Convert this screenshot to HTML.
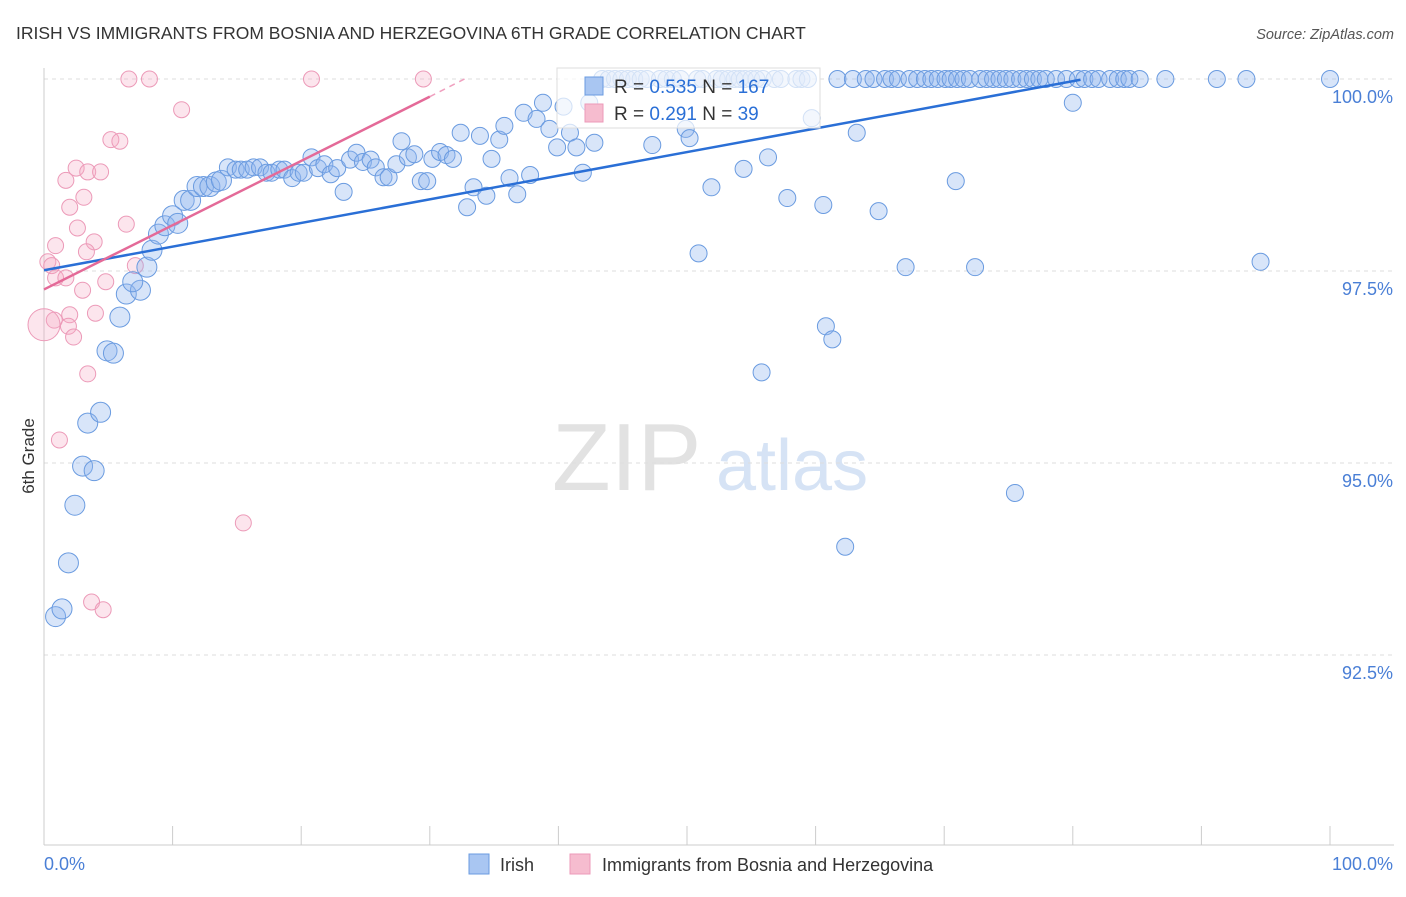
<!DOCTYPE html>
<html><head><meta charset="utf-8"><style>
body{margin:0;background:#fff;font-family:"Liberation Sans",sans-serif}
svg text{font-family:"Liberation Sans",sans-serif}
</style></head><body>
<svg id="chart" width="1406" height="892" xmlns="http://www.w3.org/2000/svg">
<text x="16" y="39" font-size="17.5" fill="#333">IRISH VS IMMIGRANTS FROM BOSNIA AND HERZEGOVINA 6TH GRADE CORRELATION CHART</text>
<text x="1394" y="39" font-size="14.5" fill="#555" font-style="italic" text-anchor="end">Source: ZipAtlas.com</text>
<g>
<text x="552" y="490" font-size="96" font-family="Liberation Serif" fill="#e2e2e2">ZIP</text>
<text x="716" y="490" font-size="72" fill="#d6e3f5">atlas</text>
</g>
<g id="grid"></g>
<g id="axes"></g>
<g id="pink"></g>
<g id="blue"></g>
<g id="lines"></g>
<g>
<rect x="557" y="68" width="263" height="60" fill="#fff" fill-opacity="0.7" stroke="#ddd"/>
<rect x="585" y="77" width="18" height="18" fill="#a9c6f2" stroke="#6a9be0"/>
<text x="614" y="93" font-size="19" fill="#333">R = <tspan fill="#2a6fd6">0.535</tspan>   N = <tspan fill="#2a6fd6">167</tspan></text>
<rect x="585" y="104" width="18" height="18" fill="#f6bccf" stroke="#ec9ab8"/>
<text x="614" y="120" font-size="19" fill="#333">R =  <tspan fill="#2a6fd6">0.291</tspan>   N =  <tspan fill="#2a6fd6">39</tspan></text>
</g>
<text transform="translate(34,456) rotate(-90)" font-size="17" fill="#333" text-anchor="middle">6th Grade</text>
<g>
<rect x="469" y="854" width="20" height="20" fill="#a9c6f2" stroke="#6a9be0"/>
<text x="500" y="871" font-size="18" fill="#333">Irish</text>
<rect x="570" y="854" width="20" height="20" fill="#f6bccf" stroke="#ec9ab8"/>
<text x="602" y="871" font-size="18" fill="#333">Immigrants from Bosnia and Herzegovina</text>
</g>
</svg>
<script>
const blueX=[0.9,1.4,1.9,2.4,3.0,3.9,3.4,4.4,4.9,5.4,5.9,6.4,7.5,6.9,8.0,8.4,8.9,9.4,10.0,10.4,10.9,11.4,11.9,12.4,12.9,13.4,13.8,14.3,14.9,15.3,15.8,16.3,16.8,17.3,17.7,18.3,18.7,19.3,19.8,20.2,20.8,21.3,21.8,22.3,22.8,23.3,23.8,24.3,24.8,25.4,25.8,26.4,26.8,27.4,27.8,28.3,28.8,29.3,29.8,30.2,30.8,31.3,31.8,32.4,32.9,33.4,33.9,34.4,34.8,35.4,35.8,36.2,36.8,37.3,37.8,38.3,38.8,39.3,39.9,40.4,40.9,41.4,41.9,42.4,42.8,47.3,49.9,50.2,51.9,54.4,56.3,57.8,59.7,60.6,60.8,61.3,62.3,63.2,64.9,67.0,72.4,75.5,80.0,94.6,55.8,50.9,70.9,
43.4,43.9,44.4,44.9,45.4,45.9,46.4,46.9,47.9,48.4,48.9,49.5,50.8,51.2,52.3,52.7,53.2,53.7,54.1,54.5,55.0,55.4,55.9,56.8,57.3,58.5,58.9,59.4,61.7,62.9,63.9,64.5,65.4,65.9,66.4,67.3,67.9,68.5,69.0,69.5,70.1,70.5,71.0,71.5,72.0,72.8,73.3,73.8,74.3,74.8,75.3,75.9,76.4,76.9,77.4,77.9,78.7,79.5,80.4,80.9,81.5,82.0,82.9,83.5,84.0,84.4,85.2,87.2,91.2,93.5,100];
const blueY=[93.0,93.1,93.7,94.45,94.96,94.9,95.52,95.66,96.46,96.43,96.9,97.2,97.25,97.36,97.55,97.77,97.98,98.09,98.22,98.12,98.42,98.42,98.6,98.6,98.6,98.66,98.68,98.85,98.82,98.82,98.82,98.85,98.85,98.78,98.78,98.82,98.82,98.71,98.78,98.78,98.98,98.84,98.89,98.76,98.84,98.53,98.95,99.04,98.92,98.95,98.85,98.72,98.72,98.89,99.19,98.98,99.02,98.67,98.67,98.96,99.05,99.01,98.96,99.3,98.33,98.59,99.26,98.48,98.96,99.21,99.39,98.71,98.5,99.56,98.75,99.48,99.69,99.35,99.11,99.64,99.3,99.11,98.78,99.69,99.17,99.14,99.35,99.23,98.59,98.83,98.98,98.45,99.49,98.36,96.78,96.61,93.91,99.3,98.28,97.55,97.55,94.61,99.69,97.62,96.18,97.73,98.67];
while(blueY.length<blueX.length) blueY.push(100);
const pinkX=[6.6,8.2,20.8,29.5,10.7,5.2,5.9,2.5,3.4,4.4,1.7,2.0,3.1,2.6,6.4,0.9,3.9,3.3,0.3,0.6,0.9,1.7,7.1,4.8,3.0,4.0,2.0,0.8,1.9,0,2.3,3.4,1.2,15.5,3.7,4.6];
const pinkY=[100,100,100,100,99.6,99.21,99.19,98.84,98.79,98.79,98.68,98.33,98.46,98.06,98.11,97.83,97.88,97.75,97.62,97.57,97.41,97.41,97.57,97.36,97.25,96.95,96.93,96.86,96.78,96.8,96.64,96.16,95.3,94.22,93.19,93.09];
const yTicks=[100,97.5,95,92.5];
const yTickLabels=["100.0%","97.5%","95.0%","92.5%"];
const blueTrend=[[0,97.51],[80.6,99.99]];
const pinkTrend=[[0,97.26],[30,99.77]];
const pinkDash=[[30,99.77],[32.7,100]];

const X0=44,X1=1330,YTOP=79,PXPERPCT=76.8;
const sx=v=>X0+(X1-X0)*v/100;
const sy=v=>YTOP+(100-v)*PXPERPCT;
const NS="http://www.w3.org/2000/svg";
function mk(tag,attrs,parent){const e=document.createElementNS(NS,tag);for(const k in attrs)e.setAttribute(k,attrs[k]);parent.appendChild(e);return e;}
const grid=document.getElementById('grid'),axes=document.getElementById('axes');
yTicks.forEach((t,i)=>{
  const g=mk('line',{x1:X0,x2:1394,y1:sy(t),y2:sy(t),stroke:'#ddd','stroke-dasharray':'4,4'},grid);
  
  
  const l=mk('text',{x:1393,y:sy(t)+24,'font-size':18,fill:'#4a7fd6','text-anchor':'end'},axes);
  l.textContent=yTickLabels[i];
  
  
});
let a=mk('line',{x1:X0,x2:X0,y1:68,y2:845,stroke:'#ccc'},axes);


a=mk('line',{x1:X0,x2:1394,y1:845,y2:845,stroke:'#ccc'},axes);


for(let i=0;i<=10;i++){
  const t=mk('line',{x1:sx(i*10),x2:sx(i*10),y1:826,y2:845,stroke:'#ccc'},axes);
  
  
}
let xl=mk('text',{x:44,y:870,'font-size':18,fill:'#4a7fd6'},axes);xl.textContent='0.0%';


xl=mk('text',{x:1393,y:870,'font-size':18,fill:'#4a7fd6','text-anchor':'end'},axes);xl.textContent='100.0%';



const pg=document.getElementById('pink');
pinkX.forEach((x,i)=>{
  const c=mk('circle',{cx:sx(x),cy:sy(pinkY[i]),r:(x===0?16:8),fill:'#f4a9c2','fill-opacity':0.3,stroke:'#ec9ab8','stroke-width':1},pg);
  
  
});
const bg=document.getElementById('blue');
blueX.forEach((x,i)=>{
  const c=mk('circle',{cx:sx(x),cy:sy(blueY[i]),r:(x<14?10:8.5),fill:'#8fb5ee','fill-opacity':0.35,stroke:'#6a9be0','stroke-width':1},bg);
  
  
});
const lg=document.getElementById('lines');
let ln=mk('line',{x1:sx(blueTrend[0][0]),y1:sy(blueTrend[0][1]),x2:sx(blueTrend[1][0]),y2:sy(blueTrend[1][1]),stroke:'#2a6fd6','stroke-width':2.5},lg);


ln=mk('line',{x1:sx(pinkTrend[0][0]),y1:sy(pinkTrend[0][1]),x2:sx(pinkTrend[1][0]),y2:sy(pinkTrend[1][1]),stroke:'#e46a98','stroke-width':2.5},lg);


ln=mk('line',{x1:sx(pinkDash[0][0]),y1:sy(pinkDash[0][1]),x2:sx(pinkDash[1][0]),y2:sy(pinkDash[1][1]),stroke:'#f0a0bf','stroke-width':1.5,'stroke-dasharray':'6,5'},lg);


</script>
</body></html>
